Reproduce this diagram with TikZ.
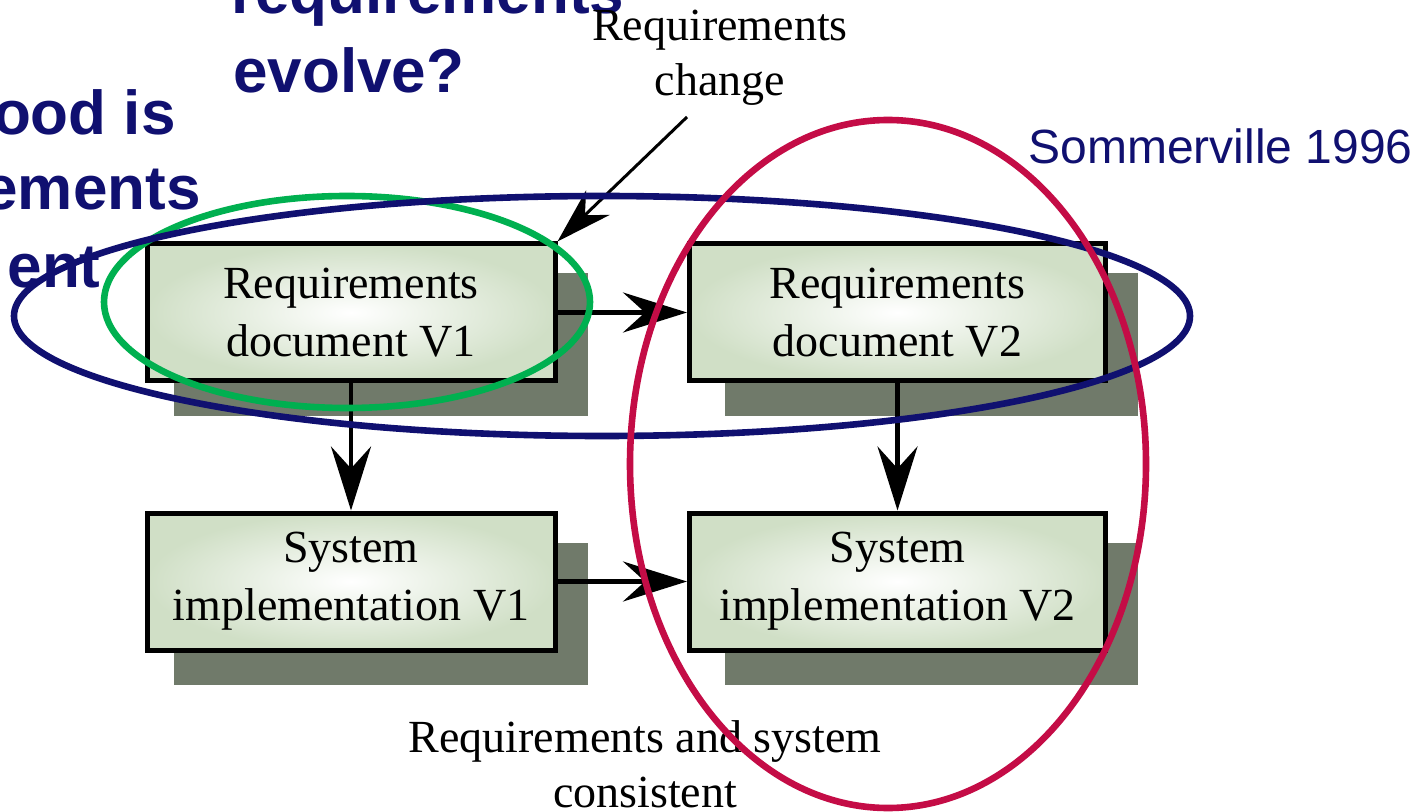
\documentclass[tikz,border=0pt]{standalone}
\usepackage{fontspec}
\setmainfont{Liberation Serif}
\newfontfamily\arialf{Liberation Sans}
\usetikzlibrary{arrows.meta,backgrounds}
\definecolor{navyc}{RGB}{16,16,112}
\definecolor{greenc}{RGB}{0,176,80}
\definecolor{crimsonc}{RGB}{196,12,70}
\definecolor{shadowc}{RGB}{112,122,106}
\definecolor{boxgreen}{RGB}{208,223,198}
\begin{document}
\begin{tikzpicture}[x=0.5pt,y=-0.5pt,
  boxst/.style={draw=black, line width=2.5pt, inner color=white, outer color=boxgreen,
    minimum width=204pt, minimum height=68.5pt, inner sep=0pt, align=center,
    font=\fontsize{23pt}{29pt}\selectfont},
  widebox/.style={boxst, minimum width=208pt},
  shadowst/.style={fill=shadowc},
  bigarrow/.style={line width=2.2pt, -{Stealth[length=32pt,width=20pt,inset=11pt]}},
  thinarrow/.style={line width=1.5pt, -{Stealth[length=28pt,width=17pt,inset=9pt]}},
  labelst/.style={inner sep=0pt, align=center, font=\fontsize{23pt}{27.5pt}\selectfont},
  titlest/.style={inner sep=0pt, text=navyc, font=\arialf\bfseries\fontsize{31pt}{38pt}\selectfont},
  ringst/.style={line width=3.3pt}
]
\useasboundingbox (0,0) rectangle (1423,812);
\clip (0,0) rectangle (1423,812);

% title fragments
\node[titlest, anchor=base west] (t1) at (231,14) {requirements};
\node[titlest, anchor=base west] (t2) at (233,93) {evolve?};
\node[titlest, anchor=base east] (t3) at (176,135) {ood is};
\node[titlest, anchor=base east] (t4) at (201,210) {ements};
\node[titlest, anchor=base east] (t5) at (101,288) {ent};

\node[inner sep=0pt, text=navyc, anchor=base west, font=\arialf\fontsize{24pt}{29pt}\selectfont] (som) at (1028,164) {Sommerville 1996};

% boxes
\node[boxst] (rq1) at (351,312.5) {Requirements\\document V1};
\node[widebox] (rq2) at (897.5,312.5) {Requirements\\document V2};
\node[boxst] (sy1) at (351,581.5) {System\\implementation V1};
\node[widebox] (sy2) at (897.5,581.5) {System\\implementation V2};

\begin{pgfonlayer}{background}
\fill[white] (0,0) rectangle (1423,812);
\foreach \b/\dx in {rq1/14.5pt,sy1/14.5pt,rq2/19pt,sy2/19pt}{
  \fill[shadowst] ([xshift=\dx,yshift=-16pt]\b.south west) rectangle ([xshift=15pt,yshift=-16pt]\b.north east);
}
\end{pgfonlayer}

\draw[bigarrow] (rq1) -- (rq2);
\draw[bigarrow] (rq1) -- (sy1);
\draw[bigarrow] (rq2) -- (sy2);
\draw[bigarrow] (sy1) -- (sy2);

% labels
\node[labelst, anchor=north] (chg) at (720,10) {Requirements\\change};
\coordinate (chgtail) at (687,117);
\draw[thinarrow] (chgtail) -- (rq1.north east);
\node[labelst, anchor=north] (cons) at (645,720) {Requirements and system\\consistent};

% rings
\draw[ringst, greenc] (347,302) ellipse [x radius=243, y radius=106];
\draw[ringst, navyc] (602,316) ellipse [x radius=588, y radius=120];
\draw[ringst, crimsonc] (888,464) ellipse [x radius=258, y radius=344];
\end{tikzpicture}
\end{document}
